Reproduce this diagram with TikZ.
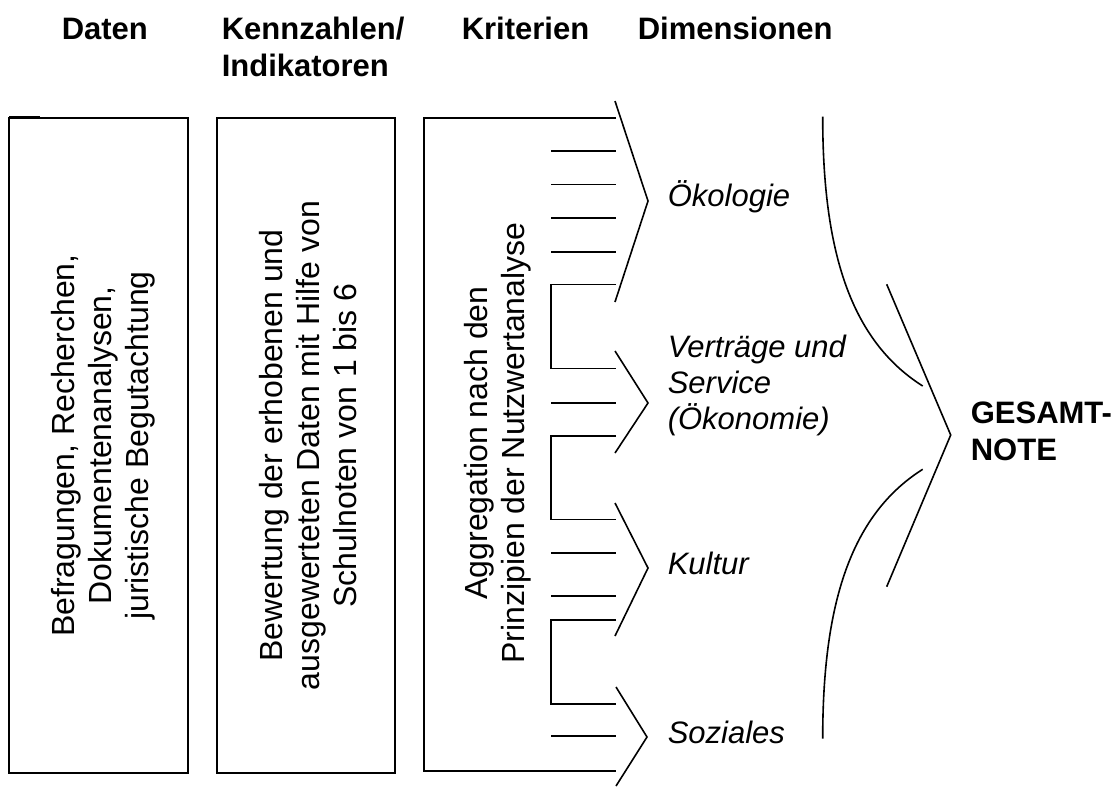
\documentclass[tikz,border=0pt]{standalone}
\usepackage{fontspec}
\setmainfont{Liberation Sans}
\begin{document}
\begin{tikzpicture}[x=1pt,y=-1pt,line width=1.6pt,line join=miter,
  hdr/.style={font=\fontsize{31}{37}\selectfont\bfseries,anchor=base west,inner sep=0pt,align=left},
  dimlabel/.style={font=\fontsize{31}{36}\selectfont\itshape,anchor=base west,inner sep=0pt,align=left},
  vtext/.style={font=\fontsize{32}{37}\selectfont,rotate=90,inner sep=0pt,align=center},
  boxframe/.style={draw,line width=1.6pt}]
\useasboundingbox (0,0) rectangle (1119,787);
% headers (base anchor of a multi-line node = baseline of its last line)
\node[hdr] (hdaten) at (61,39) {Daten};
\node[hdr] (hkenn) at (221,76) {Kennzahlen/\\Indikatoren};
\node[hdr] (hkrit) at (461,39) {Kriterien};
\node[hdr] (hdim) at (637,39) {Dimensionen};
% boxes
\draw[boxframe] (9,118) rectangle (188,773);
\draw[line width=1.2pt] (9,116.5) -- (40,116.5);
\draw[boxframe] (217,118) rectangle (395,773);
\draw (616,117.7) -- (424,117.7) -- (424,770.7) -- (616,770.7);
% rotated texts
\node[vtext] (tdaten) at (103,445.5) {Befragungen, Recherchen,\\Dokumentenanalysen,\\juristische Begutachtung};
\node[vtext] (tkenn) at (308,445.5) {Bewertung der erhobenen und\\ausgewerteten Daten mit Hilfe von\\Schulnoten von 1 bis 6};
\node[vtext] (tkrit) at (498,443) {Aggregation nach den\\Prinzipien der Nutzwertanalyse};
% criteria lines
\foreach \y in {151,184.3,217.7,251.7,402.7,552.7,596,736}
  \draw (551,\y) -- (616,\y);
\draw (616,284.3) -- (551,284.3) -- (551,368.3) -- (616,368.3);
\draw (616,435.7) -- (551,435.7) -- (551,519.3) -- (616,519.3);
\draw (616,620) -- (551,620) -- (551,704) -- (616,704);
% chevrons
\draw (615,101) -- (648,201) -- (615,302);
\draw (615,351) -- (648,403) -- (615,453);
\draw (615,503) -- (648,568) -- (615,636);
\draw (616,687) -- (647,737) -- (616,786);
% dimension labels
\node[dimlabel] (doek) at (667,206) {Ökologie};
\node[dimlabel] (dver) at (667,429) {Verträge und\\Service\\(Ökonomie)};
\node[dimlabel] (dkul) at (667,574) {Kultur};
\node[dimlabel] (dsoz) at (667,743) {Soziales};
% big curves
\draw (822.7,116.7) .. controls (822.7,250) and (850,340) .. (922.7,386);
\draw (922.7,469.3) .. controls (850,515.3) and (822.7,605.3) .. (822.7,738.6);
\draw (886.7,284.3) -- (950.7,435) -- (886.7,586.7);
\node[hdr] (gesamt) at (970,460) {GESAMT-\\NOTE};
\end{tikzpicture}
\end{document}
